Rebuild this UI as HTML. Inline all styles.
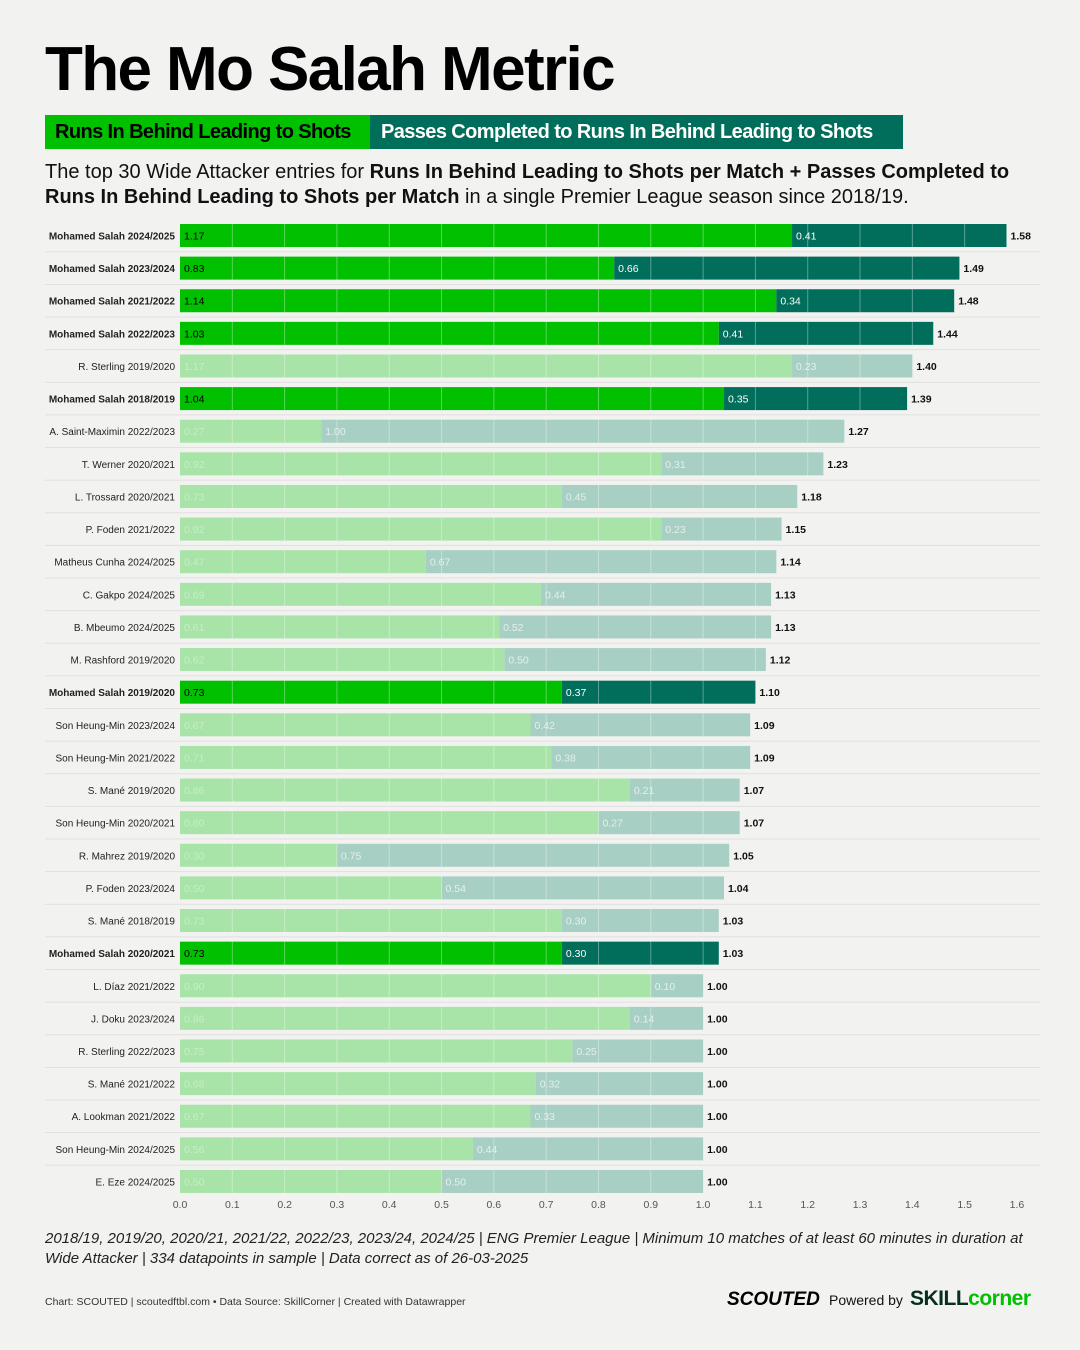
<!DOCTYPE html>
<html><head><meta charset="utf-8"><style>
body{margin:0;width:1080px;height:1350px;background:#f2f2f1;font-family:"Liberation Sans",sans-serif;overflow:hidden;position:relative}
.abs{position:absolute}
</style></head><body>
<div class="abs" style="left:45px;top:34px;font-size:62px;font-weight:bold;letter-spacing:-1.6px;color:#000">The Mo Salah Metric</div>
<div class="abs" style="left:45px;top:115px;width:325px;height:34px;background:#00c000;color:#000;font-weight:bold;font-size:20px;line-height:34px;letter-spacing:-0.6px;padding-left:10px;box-sizing:border-box">Runs In Behind Leading to Shots</div>
<div class="abs" style="left:370px;top:115px;width:533px;height:34px;background:#006e5a;color:#fff;font-weight:bold;font-size:20px;line-height:34px;letter-spacing:-0.6px;padding-left:11px;box-sizing:border-box">Passes Completed to Runs In Behind Leading to Shots</div>
<div class="abs" style="left:45px;top:160px;font-size:20px;line-height:25px;color:#111;width:1000px">The top 30 Wide Attacker entries for <b>Runs In Behind Leading to Shots per Match + Passes Completed to Runs In Behind Leading to Shots per Match</b> in a single Premier League season since 2018/19.</div>
<svg class="abs" style="left:0;top:0" width="1080" height="1350" id="chart"></svg>
<div class="abs" style="left:45px;top:1229px;font-size:15px;line-height:20px;font-style:italic;color:#222;width:1000px">2018/19, 2019/20, 2020/21, 2021/22, 2022/23, 2023/24, 2024/25 | ENG Premier League | Minimum 10 matches of at least 60 minutes in duration at Wide Attacker | 334 datapoints in sample | Data correct as of 26-03-2025</div>
<div class="abs" style="left:45px;top:1296px;font-size:10.5px;color:#333">Chart: SCOUTED | scoutedftbl.com • Data Source: SkillCorner | Created with Datawrapper</div>
<div class="abs" style="left:727px;top:1289px;font-size:19px;font-weight:bold;font-style:italic;color:#000">SCOUTED</div>
<div class="abs" style="left:829px;top:1292px;font-size:14px;color:#111">Powered by</div>
<div class="abs" style="left:910px;top:1287px;font-size:21px;font-weight:bold;letter-spacing:-0.5px"><span style="color:#07301c">SKILL</span><span style="color:#00c000">corner</span></div>
<script>
const names=["Mohamed Salah 2024/2025","Mohamed Salah 2023/2024","Mohamed Salah 2021/2022","Mohamed Salah 2022/2023","R. Sterling 2019/2020","Mohamed Salah 2018/2019","A. Saint-Maximin 2022/2023","T. Werner 2020/2021","L. Trossard 2020/2021","P. Foden 2021/2022","Matheus Cunha 2024/2025","C. Gakpo 2024/2025","B. Mbeumo 2024/2025","M. Rashford 2019/2020","Mohamed Salah 2019/2020","Son Heung-Min 2023/2024","Son Heung-Min 2021/2022","S. Mané 2019/2020","Son Heung-Min 2020/2021","R. Mahrez 2019/2020","P. Foden 2023/2024","S. Mané 2018/2019","Mohamed Salah 2020/2021","L. Díaz 2021/2022","J. Doku 2023/2024","R. Sterling 2022/2023","S. Mané 2021/2022","A. Lookman 2021/2022","Son Heung-Min 2024/2025","E. Eze 2024/2025"];
const runs=[1.17,0.83,1.14,1.03,1.17,1.04,0.27,0.92,0.73,0.92,0.47,0.69,0.61,0.62,0.73,0.67,0.71,0.86,0.80,0.30,0.50,0.73,0.73,0.90,0.86,0.75,0.68,0.67,0.56,0.50];
const passes=[0.41,0.66,0.34,0.41,0.23,0.35,1.00,0.31,0.45,0.23,0.67,0.44,0.52,0.50,0.37,0.42,0.38,0.21,0.27,0.75,0.54,0.30,0.30,0.10,0.14,0.25,0.32,0.33,0.44,0.50];
const totals=[1.58,1.49,1.48,1.44,1.40,1.39,1.27,1.23,1.18,1.15,1.14,1.13,1.13,1.12,1.10,1.09,1.09,1.07,1.07,1.05,1.04,1.03,1.03,1.00,1.00,1.00,1.00,1.00,1.00,1.00];
const ticks=[0,0.1,0.2,0.3,0.4,0.5,0.6,0.7,0.8,0.9,1.0,1.1,1.2,1.3,1.4,1.5,1.6];
const svg=document.getElementById('chart');const NS='http://www.w3.org/2000/svg';
const x=v=>180+v*523.1;const yc=i=>235.5+i*32.62;const H=23;
function mk(t,a,p){const e=document.createElementNS(NS,t);for(const k in a)e.setAttribute(k,a[k]);(p||svg).appendChild(e);return e;}
names.forEach((n,i)=>{
 const sal=n.startsWith('Mohamed Salah');
 const g=mk('g',{});
 
 
 if(i>0){mk('line',{x1:45,x2:1040,y1:yc(i)-16.3,y2:yc(i)-16.3,stroke:'#e0e0e0','stroke-width':1},g);}
 const lab=mk('text',{x:175,y:yc(i)+4,'text-anchor':'end','font-size':10,'font-weight':sal?'bold':'normal',fill:'#222'},g);lab.textContent=n;
 const r1=mk('rect',{x:x(0),y:yc(i)-H/2,width:x(runs[i])-x(0),height:H,fill:sal?'#00c000':'#a8e4a8'},g);
 
 
 const r2=mk('rect',{x:x(runs[i]),y:yc(i)-H/2,width:x(runs[i]+passes[i])-x(runs[i]),height:H,fill:sal?'#006e5a':'#a8cfc4'},g);
 
 
 ticks.forEach(t=>{if(t>0&&t<runs[i]+passes[i]-0.005)mk('line',{x1:x(t),x2:x(t),y1:yc(i)-H/2,y2:yc(i)+H/2,stroke:'#fff','stroke-opacity':0.35,'stroke-width':1},g);});
 const t1=mk('text',{x:x(0)+4,y:yc(i)+4,'font-size':10.5,fill:sal?'#000':'#c8ecc8'},g);t1.textContent=runs[i].toFixed(2);
 const t2=mk('text',{x:x(runs[i])+4,y:yc(i)+4,'font-size':10.5,fill:sal?'#fff':'#e4f0ec'},g);t2.textContent=passes[i].toFixed(2);
 const t3=mk('text',{x:x(runs[i]+passes[i])+4,y:yc(i)+4,'font-size':10.5,'font-weight':'bold',fill:'#111'},g);t3.textContent=totals[i].toFixed(2);
});
ticks.forEach(t=>{const e=mk('text',{x:x(t),y:1208,'text-anchor':'middle','font-size':10.5,fill:'#555'});e.textContent=t.toFixed(1);
 
 });
</script>
</body></html>
